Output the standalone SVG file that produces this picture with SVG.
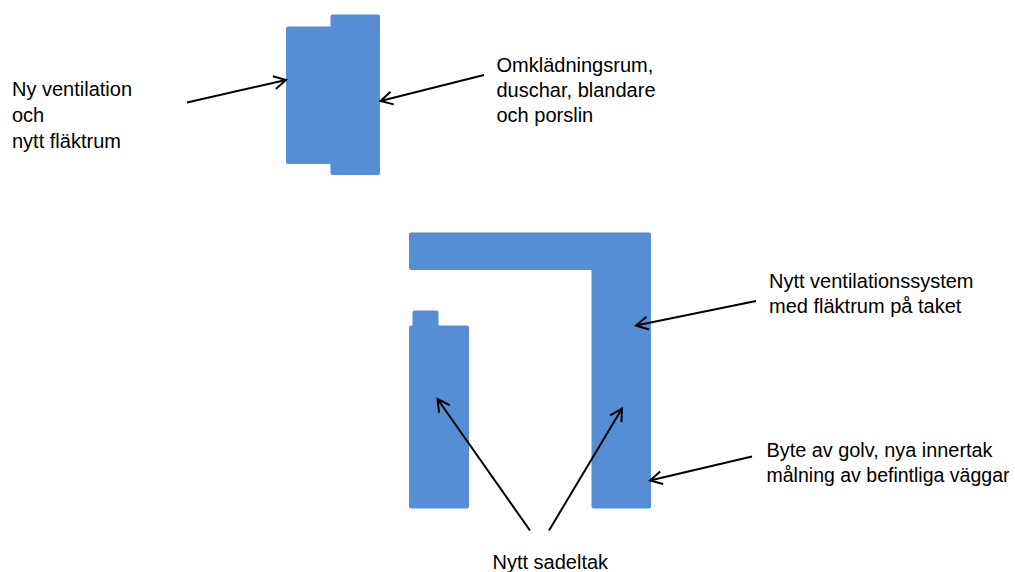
<svg xmlns="http://www.w3.org/2000/svg" width="1015" height="572" viewBox="0 0 1015 572">
<defs>
<style>
.bld{fill:#558ed5;}
.lbl{font-family:"Liberation Sans",Arial,sans-serif;font-size:20px;fill:#000;}
.arr{stroke:#000;stroke-width:2;fill:none;marker-end:url(#ah);}
</style>
<marker id="ah" markerUnits="userSpaceOnUse" markerWidth="16" markerHeight="16" viewBox="0 0 16 16" refX="14" refY="8" orient="auto">
<path d="M2,1.5 L14,8 L2,14.5" fill="none" stroke="#000" stroke-width="2"/>
</marker>
</defs>
<rect width="1015" height="572" fill="#fff"/>
<g id="top-building">
<rect class="bld" x="286" y="26.5" width="48" height="137.5" rx="2"/>
<rect class="bld" x="330.5" y="14.5" width="49.5" height="160.5" rx="2"/>
</g>
<g id="l-building">
<path class="bld" d="M411,232.5 H649 Q651,232.5 651,234.5 V506.5 Q651,508.5 649,508.5 H593.5 Q591.5,508.5 591.5,506.5 V270 H411 Q409,270 409,268 V234.5 Q409,232.5 411,232.5 Z"/>
</g>
<g id="left-building">
<rect class="bld" x="412.5" y="310.5" width="26" height="20" rx="2"/>
<rect class="bld" x="409" y="325.5" width="60" height="183" rx="2"/>
</g>
<g id="connectors">
<line class="arr" x1="187" y1="102.5" x2="286" y2="80"/>
<line class="arr" x1="484" y1="75" x2="380.5" y2="101"/>
<line class="arr" x1="756" y1="301" x2="636" y2="325.5"/>
<line class="arr" x1="752" y1="456.5" x2="650" y2="480.5"/>
<line class="arr" x1="530" y1="530.5" x2="437.5" y2="399"/>
<line class="arr" x1="549" y1="530.5" x2="622" y2="408.5"/>
</g>
<g id="label-ventilation">
<text class="lbl" x="12" y="96">Ny ventilation</text>
<text class="lbl" x="12" y="122">och</text>
<text class="lbl" x="12" y="147.5">nytt fläktrum</text>
</g>
<g id="label-omkladning">
<text class="lbl" x="496.5" y="71.5">Omklädningsrum,</text>
<text class="lbl" x="496.5" y="96.5">duschar, blandare</text>
<text class="lbl" x="496.5" y="121.5">och porslin</text>
</g>
<g id="label-system">
<text class="lbl" x="769" y="288">Nytt ventilationssystem</text>
<text class="lbl" x="769" y="313">med fläktrum på taket</text>
</g>
<g id="label-golv">
<text class="lbl" x="766.5" y="457" textLength="226" lengthAdjust="spacingAndGlyphs">Byte av golv, nya innertak</text>
<text class="lbl" x="766.5" y="482" textLength="243" lengthAdjust="spacingAndGlyphs">målning av befintliga väggar</text>
</g>
<g id="label-sadeltak">
<text class="lbl" x="492.5" y="569">Nytt sadeltak</text>
</g>
</svg>
